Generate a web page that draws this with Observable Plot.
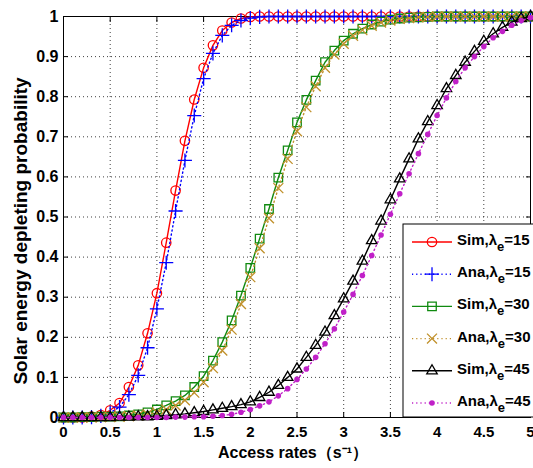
<!DOCTYPE html>
<html>
<head>
<meta charset="utf-8">
<script src="https://cdn.jsdelivr.net/npm/d3@7"></script>
<script src="https://cdn.jsdelivr.net/npm/@observablehq/plot@0.6"></script>
<style>
  html, body { margin: 0; padding: 0; background: #fff; }
</style>
</head>
<body>
<div id="chart"></div>
<script>
// Access rates (s^-1)
const accessRates = [0,0.1,0.2,0.3,0.4,0.5,0.6,0.7,0.8,0.9,1.0,1.1,1.2,1.3,1.4,1.5,1.6,1.7,1.8,1.9,2.0,2.1,2.2,2.3,2.4,2.5,2.6,2.7,2.8,2.9,3.0,3.1,3.2,3.3,3.4,3.5,3.6,3.7,3.8,3.9,4.0,4.1,4.2,4.3,4.4,4.5,4.6,4.7,4.8,4.9,5.0];

const sim15 = [0,0,0,0.002,0.006,0.018,0.036,0.076,0.13,0.21,0.31,0.436,0.566,0.69,0.793,0.872,0.928,0.965,0.985,0.995,0.999,
  1,1,1,1,1,1,1,1,1,1,1,1,1,1,1,1,1,1,1,1,1,1,1,1,1,1,1,1,1,1];
const ana15 = [0,0,0,0.001,0.004,0.012,0.026,0.057,0.105,0.174,0.271,0.386,0.515,0.641,0.753,0.845,0.908,0.953,0.978,0.99,0.996,0.999,
  1,1,1,1,1,1,1,1,1,1,1,1,1,1,1,1,1,1,1,1,1,1,1,1,1,1,1,1,1];
const sim30 = [0,0,0.001,0.001,0.002,0.002,0.003,0.005,0.008,0.013,0.02,0.03,0.041,0.055,0.076,0.103,0.142,0.188,0.242,0.304,0.373,0.446,0.52,0.598,0.666,0.736,0.792,0.84,0.886,0.915,0.94,0.957,0.97,0.98,0.987,0.992,0.995,0.997,0.998,0.999,
  1,1,1,1,1,1,1,1,1,1,1];
const ana30 = [0,0,0,0,0.001,0.001,0.002,0.003,0.005,0.008,0.013,0.02,0.03,0.043,0.062,0.088,0.123,0.167,0.219,0.283,0.35,0.422,0.497,0.572,0.645,0.714,0.774,0.826,0.872,0.905,0.932,0.952,0.966,0.977,0.985,0.99,0.994,0.996,0.998,0.999,
  1,1,1,1,1,1,1,1,1,1,1];
const sim45 = [0,0,0,0,0,0,0.001,0.001,0.002,0.002,0.003,0.005,0.007,0.009,0.012,0.015,0.019,0.023,0.027,0.032,0.039,0.05,0.063,0.08,0.1,0.121,0.15,0.18,0.213,0.254,0.296,0.34,0.39,0.441,0.49,0.543,0.595,0.645,0.695,0.738,0.778,0.82,0.853,0.886,0.913,0.938,0.957,0.973,0.986,0.995,1];
const ana45 = [0,0,0,0,0,0,0,0,0,0,0,0,0.001,0.001,0.002,0.002,0.003,0.005,0.008,0.013,0.02,0.029,0.039,0.054,0.072,0.095,0.121,0.15,0.184,0.221,0.263,0.307,0.354,0.404,0.455,0.507,0.558,0.608,0.658,0.706,0.753,0.797,0.838,0.872,0.9,0.925,0.947,0.963,0.978,0.99,0.997];

const seriesKinds = ["Sim", "Ana", "Sim", "Ana", "Sim", "Ana"];
const seriesLambda = ["15", "15", "30", "30", "45", "45"];
const seriesValues = [sim15, ana15, sim30, ana30, sim45, ana45];
const seriesColors = ["#ff0000", "#0000ff", "#108a10", "#c0902a", "#000000", "#c020c8"];
const seriesSymbols = ["circle", "plus", "square", "times", "triangle", "circle"];
const seriesFilled = [false, false, false, false, false, true];
const seriesR = [4.7, 4.6, 4.8, 4.6, 3.9, 2.8];

const xTicks = [0,0.5,1,1.5,2,2.5,3,3.5,4,4.5,5];
const yTicks = [0,0.1,0.2,0.3,0.4,0.5,0.6,0.7,0.8,0.9,1];
const xLabel = "Access rates（s⁻¹）";
const yLabel = "Solar energy depleting probability";

const fmt = d => String(+(+d).toFixed(1));

const tables = seriesValues.map(vals => accessRates.map((x, i) => ({x, y: vals[i]})));

const seriesMarks = [];
tables.forEach((t, k) => {
  seriesMarks.push(Plot.line(t, {
    x: "x", y: "y", stroke: seriesColors[k], strokeWidth: 1.4,
    strokeDasharray: seriesKinds[k] === "Ana" ? "1.2,3" : null
  }));
  seriesMarks.push(Plot.dot(t, {
    x: "x", y: "y", symbol: seriesSymbols[k],
    r: seriesR[k],
    fill: seriesFilled[k] ? seriesColors[k] : "none",
    stroke: seriesFilled[k] ? "none" : seriesColors[k],
    strokeWidth: 1.3
  }));
});

const chart = Plot.plot({
  width: 533,
  height: 468,
  marginLeft: 63,
  marginRight: 3,
  marginTop: 16,
  marginBottom: 51,
  style: {fontFamily: "'Liberation Sans', Arial, sans-serif", fontSize: "15px", background: "#fff", color: "#000"},
  x: {domain: [0, 5]},
  y: {domain: [0, 1]},
  marks: [
    Plot.gridX({ticks: xTicks, stroke: "#000", strokeOpacity: 0.75, strokeDasharray: "1,3"}),
    Plot.gridY({ticks: yTicks, stroke: "#000", strokeOpacity: 0.75, strokeDasharray: "1,3"}),
    Plot.frame({stroke: "#000", strokeWidth: 1}),
    Plot.axisX({anchor: "bottom", ticks: xTicks, tickSize: -5, tickFormat: () => "", label: null}),
    Plot.axisX({anchor: "top", ticks: xTicks, tickSize: -5, tickFormat: () => "", label: null}),
    Plot.axisY({anchor: "left", ticks: yTicks, tickSize: -5, tickFormat: () => "", label: null}),
    Plot.axisY({anchor: "right", ticks: yTicks, tickSize: -5, tickFormat: () => "", label: null}),
    Plot.axisX({anchor: "bottom", ticks: xTicks, tickSize: 0, tickPadding: 9, tickFormat: fmt, fontSize: 15, fontWeight: "bold", label: null}),
    Plot.axisY({anchor: "left", ticks: yTicks, tickSize: 0, tickPadding: 5, tickFormat: fmt, fontSize: 16, fontWeight: "bold", label: null}),
    Plot.text([xLabel], {text: d => d, frameAnchor: "bottom", textAnchor: "middle", dx: -4, dy: 40, fontSize: 16, fontWeight: "bold"}),
    Plot.text([yLabel], {text: d => d, frameAnchor: "left", textAnchor: "middle", rotate: -90, dx: -43, dy: 14, fontSize: 19, fontWeight: "bold"}),
    ...seriesMarks
  ]
});

document.getElementById("chart").appendChild(chart);

// Legend box (MATLAB style, inside the axes, lower right)
const svg = d3.select(chart);
const lg = svg.append("g")
  .attr("font-family", "'Liberation Sans', Arial, sans-serif")
  .attr("text-anchor", "start");
const boxX = 403, boxY = 224, rowY0 = 242, rowStep = 32.2;
lg.append("rect").attr("x", boxX).attr("y", boxY).attr("width", 140).attr("height", 193)
  .attr("fill", "#fff").attr("stroke", "#000").attr("stroke-width", 1);
const symbolMap = {circle: d3.symbolCircle, plus: d3.symbolPlus, square: d3.symbolSquare, times: d3.symbolTimes, triangle: d3.symbolTriangle};
seriesKinds.forEach((kind, k) => {
  const cy = rowY0 + k * rowStep;
  lg.append("line").attr("x1", 412).attr("x2", 452).attr("y1", cy).attr("y2", cy)
    .attr("stroke", seriesColors[k]).attr("stroke-width", 1.4)
    .attr("stroke-dasharray", kind === "Ana" ? "1.2,3" : null);
  const r = seriesR[k];
  lg.append("path")
    .attr("d", d3.symbol(symbolMap[seriesSymbols[k]], Math.PI * r * r)())
    .attr("transform", `translate(432,${cy})`)
    .attr("fill", seriesFilled[k] ? seriesColors[k] : "none")
    .attr("stroke", seriesFilled[k] ? "none" : seriesColors[k])
    .attr("stroke-width", 1.3);
  const t = lg.append("text").attr("x", 457).attr("y", cy + 3).attr("font-size", 15)
    .attr("font-weight", "bold").attr("fill", "#000").attr("text-anchor", "start");
  t.append("tspan").text(kind + ",λ");
  t.append("tspan").attr("dy", 6).attr("font-size", 13).text("e");
  t.append("tspan").attr("dy", -6).text("=" + seriesLambda[k]);
});
</script>
</body>
</html>
